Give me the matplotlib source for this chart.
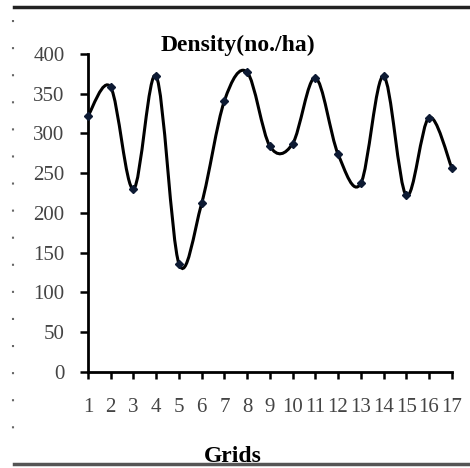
import matplotlib
matplotlib.use("Agg")
import matplotlib.pyplot as plt
from matplotlib.path import Path
from matplotlib.patches import PathPatch
from matplotlib.lines import Line2D

grids = list(range(1, 18))
density = [322, 358, 230, 372, 136, 212, 341, 377, 284, 287, 370, 274, 237, 372, 222, 320, 257]
yticks = [0, 50, 100, 150, 200, 250, 300, 350, 400]
title = "Density(no./ha)"
xlabel = "Grids"

fig = plt.figure(figsize=(4.7, 4.68), dpi=100)
ax = fig.add_axes([88/470, 1-371.7/468, 363.7/470, 317.7/468])

# Excel-like smoothed line (Bezier through points)
n = len(grids)
pts = list(zip(grids, density))
verts = [pts[0]]
codes = [Path.MOVETO]
for i in range(n - 1):
    p0 = pts[i - 1] if i > 0 else pts[i]
    p1 = pts[i]
    p2 = pts[i + 1]
    p3 = pts[i + 2] if i + 2 < n else pts[i + 1]
    c1 = (p1[0] + (p2[0] - p0[0]) / 6, p1[1] + (p2[1] - p0[1]) / 6)
    c2 = (p2[0] - (p3[0] - p1[0]) / 6, p2[1] - (p3[1] - p1[1]) / 6)
    verts += [c1, c2, p2]
    codes += [Path.CURVE4] * 3
ax.add_patch(PathPatch(Path(verts, codes), facecolor="none", edgecolor="black", lw=2.2, clip_on=False, zorder=2))
ax.plot(grids, density, linestyle="none", marker="D", markersize=4.5, color="#0d1a33", clip_on=False, zorder=3)

ax.set_xlim(1, 17)
ax.set_ylim(0, 400)
ax.set_xticks(grids)
ax.set_xticklabels([str(g) for g in grids], fontfamily="Liberation Serif", fontsize=15, color="#444444")
ax.set_yticks(yticks)
ax.set_yticklabels([str(v) for v in yticks], fontfamily="Liberation Serif", fontsize=15, color="#444444")
ax.tick_params(axis="y", direction="out", length=6, width=1.8, pad=11)
ax.tick_params(axis="x", direction="out", length=5, width=1.8, pad=14)
for s in ["top", "right"]:
    ax.spines[s].set_visible(False)
for s in ["left", "bottom"]:
    ax.spines[s].set_linewidth(2)

fig.text(238/470, 1-45/468, title, ha="center", va="center", fontfamily="Liberation Serif",
         fontweight="bold", fontsize=17)
fig.text(233/470, 1-462/468, xlabel, ha="center", va="baseline", fontfamily="Liberation Serif",
         fontweight="bold", fontsize=17)

# outer frame lines
fig.add_artist(Line2D([14/470, 1], [1-7/468, 1-7/468], color="#222222", lw=2.5))
fig.add_artist(Line2D([14/470, 1], [1-464/468, 1-464/468], color="#555555", lw=2.5))
fig.add_artist(Line2D([13/470, 13/470], [1-20/468, 1-450/468], color="#666666", lw=1.5,
                      linestyle=(0, (1, 12))))

fig.savefig("out.png", dpi=100)
